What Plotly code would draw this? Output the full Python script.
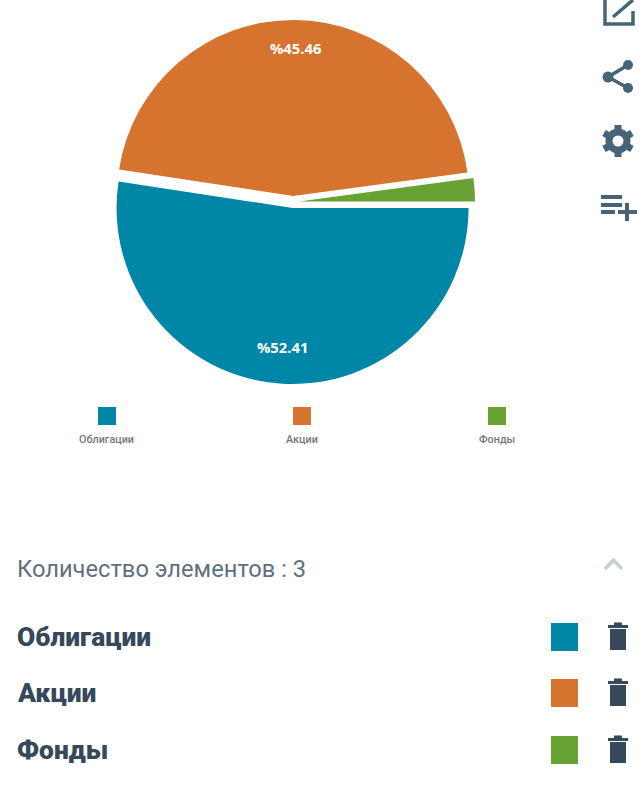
import plotly.graph_objects as go

categories = ["Облигации", "Акции", "Фонды"]
values = [52.41, 45.46, 2.13]
colors = ["#0086a6", "#d5732f", "#67a233"]
header = "Количество элементов : 3"

W, H = 643, 800
DARK = "#36495a"
ICON = "#456478"


def px(x):
    return x / W


def py(y):
    return 1 - y / H


def path(points, close=False):
    d = "M " + " L ".join(f"{px(x):.5f},{py(y):.5f}" for x, y in points)
    return d + (" Z" if close else "")


shapes = []


def rect(x0, y0, x1, y1, color):
    shapes.append(dict(type="rect", xref="paper", yref="paper", x0=px(x0), x1=px(x1),
                       y0=py(y0), y1=py(y1), fillcolor=color, line_width=0, layer="above"))


def line(points, color, width):
    shapes.append(dict(type="path", xref="paper", yref="paper", path=path(points),
                       line=dict(color=color, width=width), layer="above"))


def circle(cx, cy, r, color):
    shapes.append(dict(type="circle", xref="paper", yref="paper", x0=px(cx - r), x1=px(cx + r),
                       y0=py(cy - r), y1=py(cy + r), fillcolor=color, line_width=0, layer="above"))


annotations = []


def text(x, y, s, size, color, family="Roboto", weight=400, anchor="left"):
    annotations.append(dict(xref="paper", yref="paper", x=px(x), y=py(y), text=s, showarrow=False,
                            xanchor=anchor, yanchor="middle", borderpad=0,
                            font=dict(family=family, size=size, color=color, weight=weight)))


# pie value labels
text(295, 48, f"%{values[1]}", 14.8, "white", "Open Sans", 700, "center")
text(282, 347, f"%{values[0]}", 14.8, "white", "Open Sans", 700, "center")

# chart legend
for cat, col, sx, lx in zip(categories, colors, [98, 293, 488], [106, 302, 497]):
    rect(sx, 407, sx + 18, 425, col)
    text(lx, 439.5, cat, 10.8, "#777777", "Roboto", 500, "center")

# list below the chart
text(16, 569, header, 23.7, "#5f707e")
line([(605, 569), (613.5, 560), (622, 569)], "#c5ced6", 3.5)
for cat, col, y in zip(categories, colors, [637, 693, 750]):
    text(16, y, cat, 26.4, DARK, "Roboto", 900)
    rect(551, y - 14, 578, y + 14, col)
    rect(610, y - 8, 626, y + 13, DARK)
    rect(608, y - 12, 628, y - 9, DARK)
    rect(614, y - 14.5, 622, y - 12, DARK)

# toolbar icons
line([(633, 11), (633, 24), (605, 24), (605, 0)], ICON, 3.5)
line([(613, 17), (633, 0)], ICON, 3.5)
line([(628, 65), (608, 77), (628, 88)], ICON, 3.5)
circle(628, 65, 5, ICON)
circle(608, 77, 5.5, ICON)
circle(628, 88, 5, ICON)
for a, b in [((618, 125), (618, 157)), ((604, 133), (632, 149)), ((604, 149), (632, 133))]:
    line([a, b], ICON, 7)
circle(618, 141, 12.5, ICON)
circle(618, 141, 5.5, "white")
line([(601, 197), (622, 197)], ICON, 4)
line([(601, 205), (622, 205)], ICON, 4)
line([(601, 212), (615, 212)], ICON, 4)
line([(618, 212), (637, 212)], ICON, 4)
line([(627, 203), (627, 221)], ICON, 4)

PULL = 0.034
CX, CY, R = 293, 202, 176
half = R * (1 + PULL)

fig = go.Figure(go.Pie(
    labels=categories,
    values=values,
    sort=False,
    direction="clockwise",
    rotation=90,
    pull=[PULL, PULL, PULL],
    marker=dict(colors=colors, line=dict(width=0)),
    textinfo="none",
    hoverinfo="label+percent",
    showlegend=False,
    domain=dict(x=[px(CX - half), px(CX + half)], y=[py(CY + half), py(CY - half)]),
))

fig.update_layout(
    width=W,
    height=H,
    margin=dict(l=0, r=0, t=0, b=0),
    paper_bgcolor="white",
    shapes=shapes,
    annotations=annotations,
)

fig.write_html(
    "out.html",
    config=dict(displayModeBar=False),
    post_script="document.body.style.margin='0';document.body.style.overflow='hidden';",
)
